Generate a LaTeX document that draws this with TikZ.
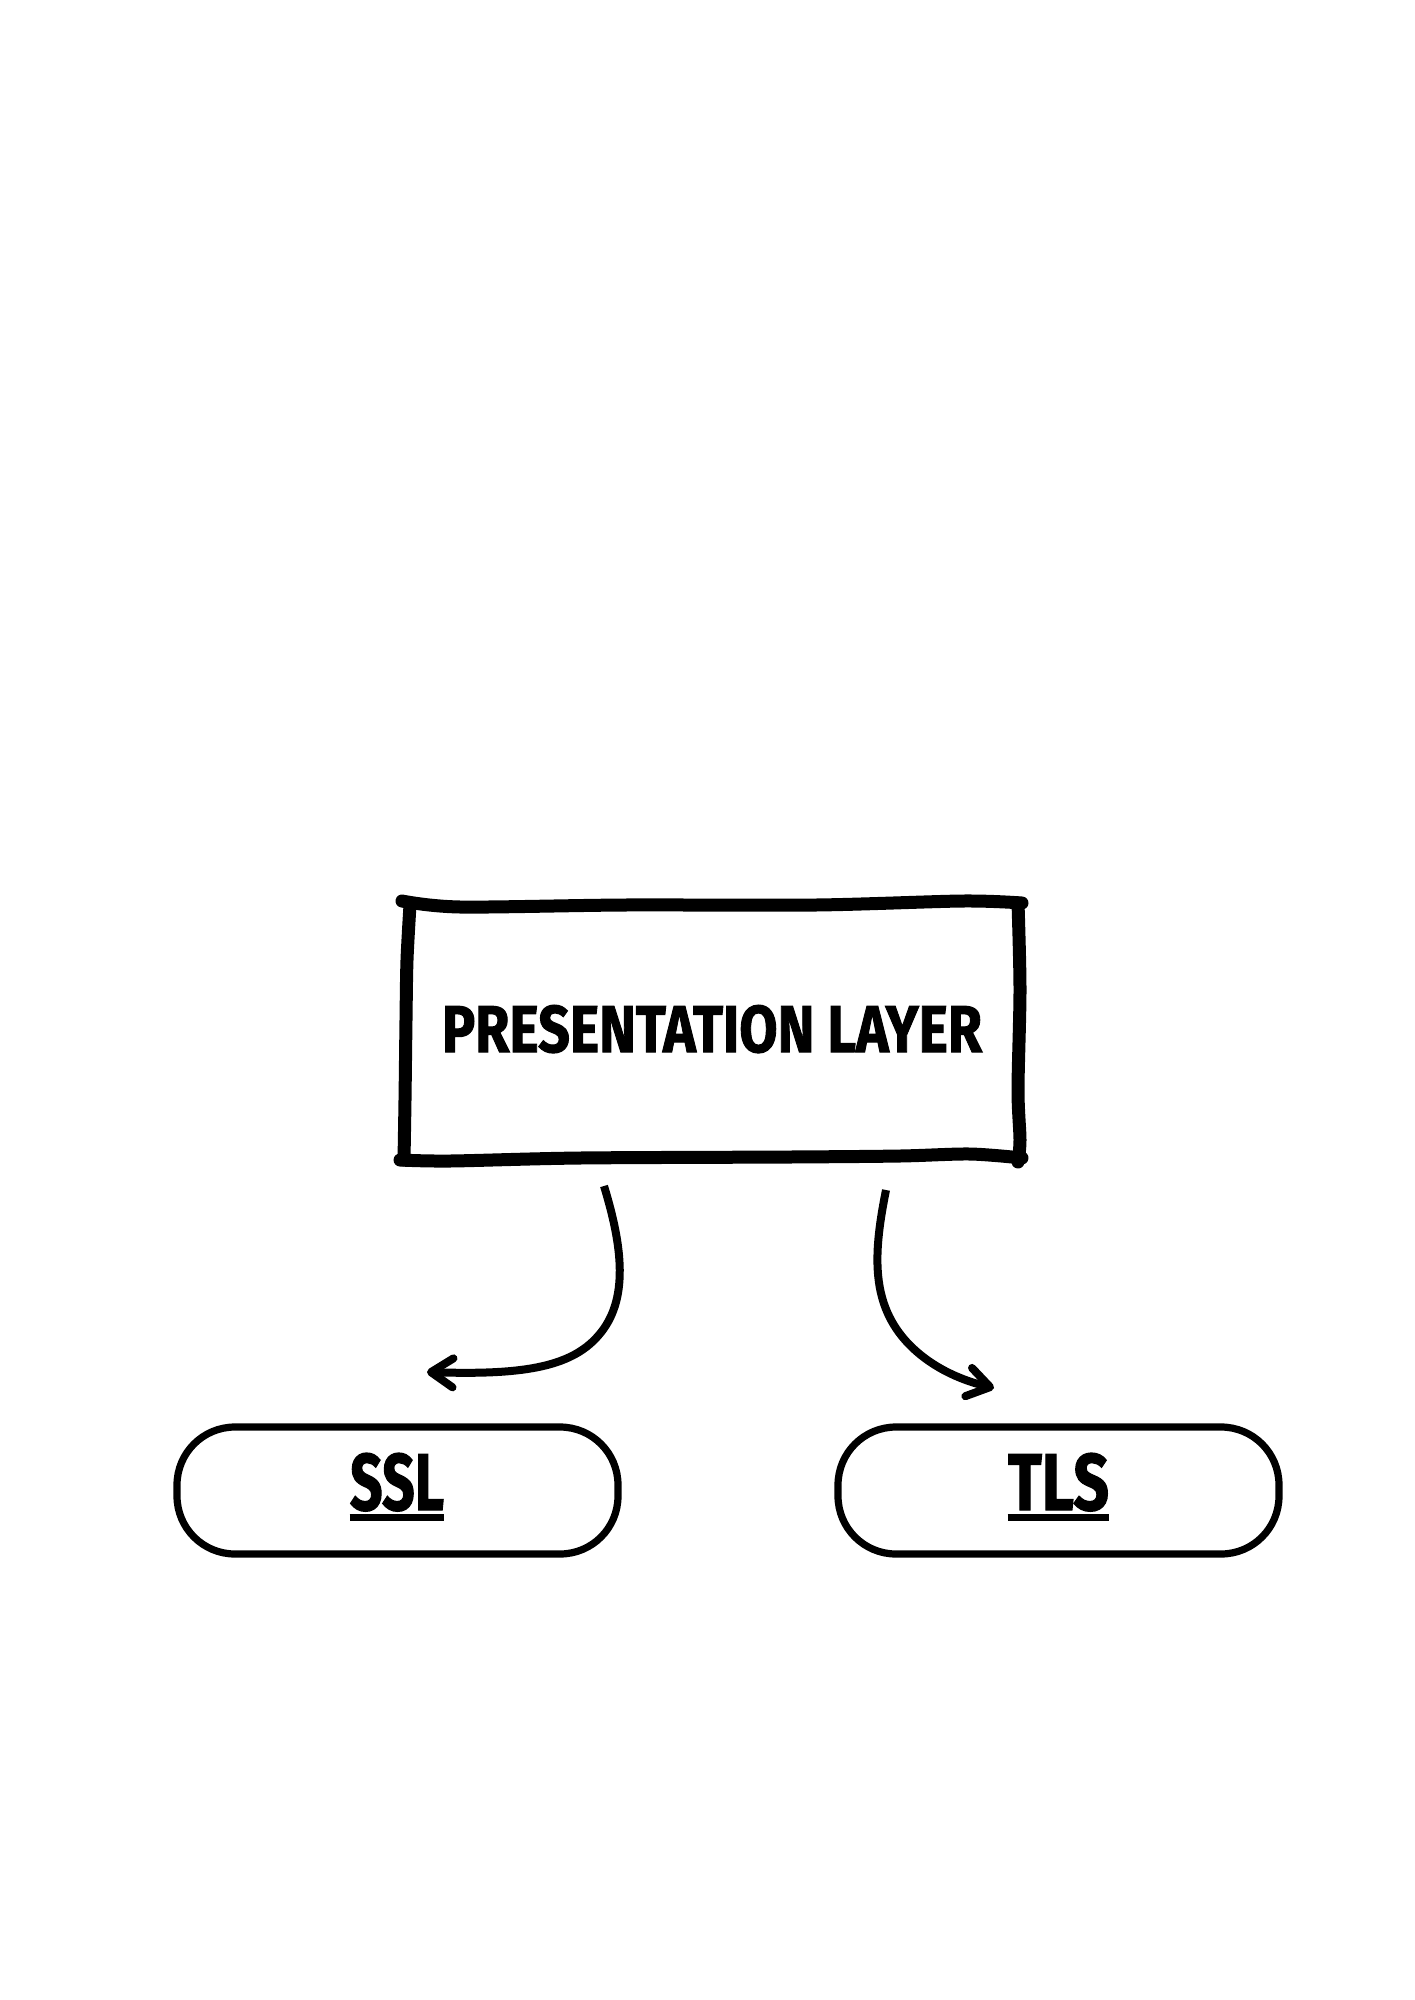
\documentclass[tikz,border=0pt]{standalone}
\usepackage{fontspec}
\setmainfont{Fira Sans}[BoldFeatures={FakeBold=1.6}]
\usetikzlibrary{arrows.meta}
\tikzset{
  sketch/.style={line width=6.5pt, line cap=round, line join=round},
  pill/.style={draw, line width=3.6pt, rounded corners=29pt, minimum width=220.5pt, minimum height=63.5pt, inner sep=0pt},
  lbl/.style={inner sep=0pt, anchor=base, font=\bfseries},
  conn/.style={line width=4pt, -{Straight Barb[length=11pt,width=14.5pt,round]}},
  uline/.style={line width=3.5pt}
}
\begin{document}
\begin{tikzpicture}[x=0.5pt,y=-0.5pt]
\useasboundingbox (0,0) rectangle (1414,2000);
% hand-drawn box around the presentation layer
\draw[sketch] plot[smooth] coordinates {(402,901) (460,907) (625,905) (816,905) (963,901) (1022,903)};
\draw[sketch] plot[smooth] coordinates {(410,905) (407,960) (406,1020) (405,1100) (404,1160)};
\draw[sketch] plot[smooth] coordinates {(1018,903) (1020,990) (1018,1090) (1020,1140) (1018,1162)};
\draw[sketch] plot[smooth] coordinates {(400,1160) (450,1161) (580,1158) (790,1157) (900,1156) (970,1154) (1022,1158)};
\node[lbl] (pres) at (712,1052) {\resizebox{270pt}{23.5pt}{PRESENTATION LAYER}};
% pills
\node[pill] (ssl) at (397.5,1490.5) {};
\node[pill] (tls) at (1058.5,1490.5) {};
\node[lbl] (ssltxt) at (397,1510) {\resizebox{47pt}{28.5pt}{SSL}};
\node[lbl] (tlstxt) at (1058.5,1510) {\resizebox{50.5pt}{28.5pt}{TLS}};
\draw[uline] ([yshift=-3.75pt]ssltxt.base west) -- ([yshift=-3.75pt]ssltxt.base east);
\draw[uline] ([yshift=-3.75pt]tlstxt.base west) -- ([yshift=-3.75pt]tlstxt.base east);
% connectors
\coordinate (s1) at (604,1186);
\coordinate (e1) at (427,1372);
\coordinate (s2) at (886,1190);
\coordinate (e2) at (994,1388);
\draw[conn] (s1) .. controls (622,1245) and (630,1300) .. (598,1336) .. controls (570,1368) and (520,1375) .. (e1);
\draw[conn] (s2) .. controls (874,1250) and (870,1300) .. (905,1340) .. controls (928,1366) and (960,1380) .. (e2);
\end{tikzpicture}
\end{document}
